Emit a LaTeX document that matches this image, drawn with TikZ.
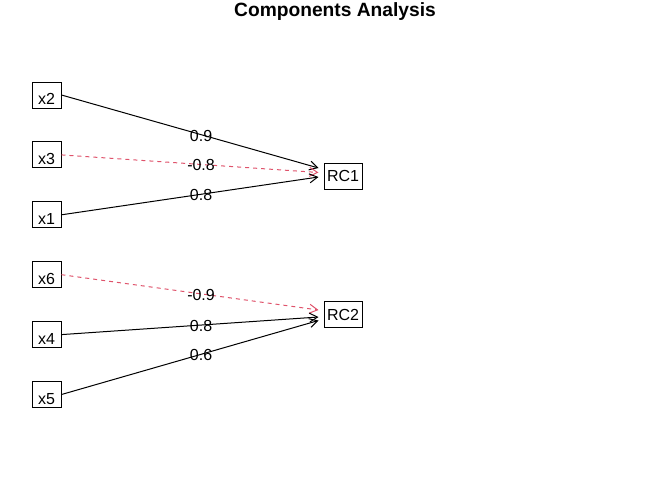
\documentclass[tikz,border=0pt]{standalone}
\usepackage{fontspec}
\setmainfont{Liberation Sans}
\usetikzlibrary{positioning, arrows.meta}
\definecolor{negred}{HTML}{DF536B}

\begin{document}
\begin{tikzpicture}[x=1pt, y=-1pt, line width=1pt, node distance=59.9pt, on grid,
  >={Straight Barb[length=8pt, width=9pt]},
  var/.style={draw, minimum width=29pt, minimum height=26pt, inner sep=0pt,
    text height=19.4pt, text depth=0pt, font=\fontsize{16}{19}\selectfont},
  comp/.style={draw, minimum width=38pt, minimum height=26pt, inner sep=0pt,
    font=\fontsize{16}{19}\selectfont},
  neg/.style={negred, dash pattern=on 4pt off 4pt},
  lbl/.style={pos=0.543, yshift=-1pt, inner sep=0pt, text=black,
    font=\fontsize{16}{19}\selectfont}]
  \useasboundingbox (0,0) rectangle (672,480);

  \node[font=\bfseries\fontsize{19.2}{23}\selectfont, anchor=base] (title) at (335,16.7) {Components Analysis};

  \node[var] (x2) at (46.5,95) {x2};
  \node[var] (x3) [below=of x2] {x3};
  \node[var] (x1) [below=of x3] {x1};
  \node[var] (x6) [below=of x1] {x6};
  \node[var] (x4) [below=of x6] {x4};
  \node[var] (x5) [below=of x4] {x5};
  \node[comp] (RC1) at (343,176.2) {RC1};
  \node[comp] (RC2) at (343,314.7) {RC2};

  % arrow ends just left of the components
  \coordinate (t2) at ([shift={(-5,-8.2)}]RC1.west);
  \coordinate (t3) at ([shift={(-5,-3.7)}]RC1.west);
  \coordinate (t1) at ([shift={(-5,0.8)}]RC1.west);
  \coordinate (t6) at ([shift={(-5,-4.7)}]RC2.west);
  \coordinate (t4) at ([shift={(-5,2.3)}]RC2.west);
  \coordinate (t5) at ([shift={(-5,5.8)}]RC2.west);

  \path[->]
  (x2.east) edge node[lbl] {0.9} (t2)
  (x3.east) edge[neg] node[lbl] {-0.8} (t3)
  (x1.east) edge node[lbl] {0.8} (t1)
  (x6.east) edge[neg] node[lbl] {-0.9} (t6)
  (x4.east) edge node[lbl] {0.8} (t4)
  (x5.east) edge node[lbl] {0.6} (t5);
\end{tikzpicture}
\end{document}
